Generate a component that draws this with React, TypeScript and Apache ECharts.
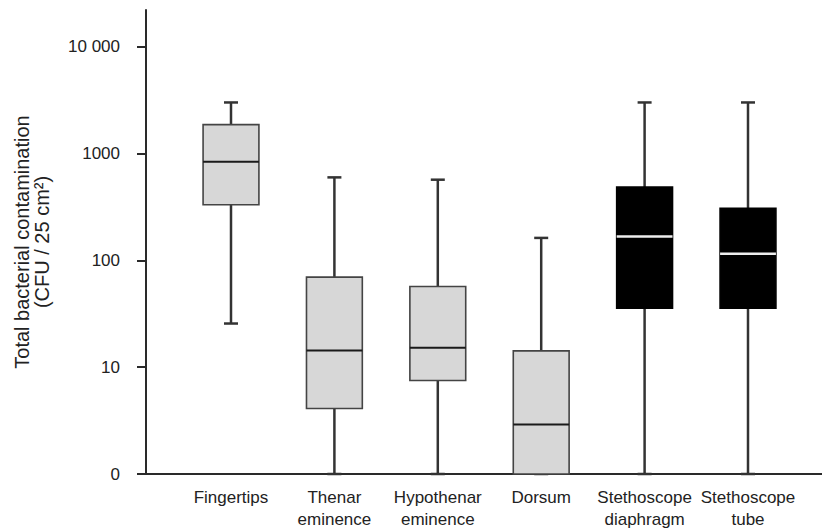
import React, { useEffect, useRef } from 'react';
import * as echarts from 'echarts';

const categories = [
  'Fingertips',
  'Thenar\neminence',
  'Hypothenar\neminence',
  'Dorsum',
  'Stethoscope\ndiaphragm',
  'Stethoscope\ntube',
];
const lowerWhisker = [25.6, 1, 1, 1, 1, 1];
const lowerQuartile = [331, 4.1, 7.5, 1, 35.7, 35.7];
const medians = [837, 14.3, 15.2, 2.9, 167, 115];
const upperQuartile = [1860, 69.6, 56.9, 14.2, 485, 306];
const upperWhisker = [3000, 597, 568, 162, 3000, 3000];
const sampleType = ['hand', 'hand', 'hand', 'hand', 'stethoscope', 'stethoscope'];
const yTicks = [1, 10, 100, 1000, 10000];
const yTickLabels = ['0', '10', '100', '1000', '10 000'];

const FONT = '"Liberation Sans", Arial, sans-serif';

export default function App() {
  const ref = useRef<HTMLDivElement>(null);
  useEffect(() => {
    if (!ref.current) return;
    const chart = echarts.init(ref.current, undefined, { renderer: 'svg' });
    const data = categories.map((_, i) => [
      i,
      lowerWhisker[i],
      lowerQuartile[i],
      medians[i],
      upperQuartile[i],
      upperWhisker[i],
    ]);
    const option: any = {
      animation: false,
      backgroundColor: '#ffffff',
      grid: [
        { left: 179.3, right: 22.3, top: 10, bottom: 58 },
        { left: 146, right: 0, top: 10, bottom: 58 },
      ],
      xAxis: [
        {
          type: 'category',
          gridIndex: 0,
          data: categories,
          axisLine: { show: false },
          axisTick: { show: false },
          axisLabel: {
            margin: 12,
            interval: 0,
            color: '#222',
            fontFamily: FONT,
            fontSize: 17,
            lineHeight: 22,
          },
          splitLine: { show: false },
        },
        {
          type: 'value',
          gridIndex: 1,
          min: 0,
          max: 1,
          axisLine: { show: true, lineStyle: { color: '#2a2a2a', width: 2 } },
          axisTick: { show: false },
          axisLabel: { show: false },
          splitLine: { show: false },
        },
      ],
      yAxis: [
        {
          type: 'log',
          logBase: 10,
          gridIndex: 0,
          min: 1,
          max: 22000,
          offset: 33.3,
          name: 'Total bacterial contamination\n(CFU / 25 cm²)',
          nameLocation: 'middle',
          nameGap: 94,
          nameTextStyle: { color: '#222', fontFamily: FONT, fontSize: 20, lineHeight: 20 },
          axisLine: { show: true, lineStyle: { color: '#2a2a2a', width: 2 } },
          axisTick: {
            show: true,
            length: 9,
            customValues: yTicks,
            lineStyle: { color: '#2a2a2a', width: 2 },
          },
          axisLabel: {
            margin: 26,
            customValues: yTicks,
            color: '#222',
            fontFamily: FONT,
            fontSize: 17,
            formatter: (v: number) => {
              const idx = yTicks.findIndex((t) => Math.abs(t - v) / t < 1e-6);
              return idx >= 0 ? yTickLabels[idx] : '';
            },
          },
          splitLine: { show: false },
        },
        {
          type: 'value',
          gridIndex: 1,
          show: false,
        },
      ],
      series: [
        {
          type: 'custom',
          xAxisIndex: 0,
          yAxisIndex: 0,
          clip: false,
          encode: { x: 0, y: [1, 2, 3, 4, 5] },
          data,
          renderItem: (params: any, api: any) => {
            const i = params.dataIndex;
            const x = api.value(0);
            const pMin = api.coord([x, api.value(1)]);
            const pQ1 = api.coord([x, api.value(2)]);
            const pMed = api.coord([x, api.value(3)]);
            const pQ3 = api.coord([x, api.value(4)]);
            const pMax = api.coord([x, api.value(5)]);
            const band = api.size([1, 1])[0];
            const bw = band * 0.54;
            const capHalf = 7;
            const cx = pMed[0];
            const steth = sampleType[i] === 'stethoscope';
            const whisk = { stroke: '#333', lineWidth: 2.5 };
            return {
              type: 'group',
              children: [
                { type: 'line', shape: { x1: cx, y1: pMax[1], x2: cx, y2: pQ3[1] }, style: whisk },
                { type: 'line', shape: { x1: cx - capHalf, y1: pMax[1], x2: cx + capHalf, y2: pMax[1] }, style: whisk },
                { type: 'line', shape: { x1: cx, y1: pQ1[1], x2: cx, y2: pMin[1] }, style: whisk },
                { type: 'line', shape: { x1: cx - capHalf, y1: pMin[1], x2: cx + capHalf, y2: pMin[1] }, style: whisk },
                {
                  type: 'rect',
                  shape: { x: cx - bw / 2, y: pQ3[1], width: bw, height: pQ1[1] - pQ3[1] },
                  style: {
                    fill: steth ? '#000000' : '#d7d7d7',
                    stroke: steth ? '#000000' : '#444444',
                    lineWidth: 1.6,
                  },
                },
                {
                  type: 'line',
                  shape: { x1: cx - bw / 2, y1: pMed[1], x2: cx + bw / 2, y2: pMed[1] },
                  style: { stroke: steth ? '#eeeeee' : '#1a1a1a', lineWidth: steth ? 2.5 : 2 },
                },
              ],
            };
          },
        },
      ],
    };
    chart.setOption(option);
    return () => chart.dispose();
  }, []);
  return <div ref={ref} style={{ width: 822, height: 532, position: 'absolute', left: 0, top: 0 }} />;
}
